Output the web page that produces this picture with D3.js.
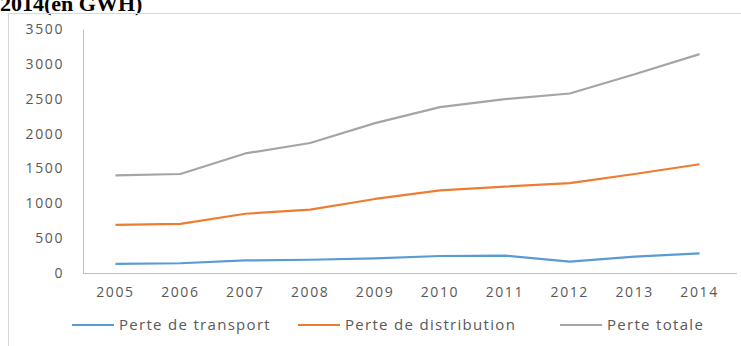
<!DOCTYPE html>
<html lang="en">
<head>
<meta charset="UTF-8">
<title>Pertes 2005-2014</title>
<script src="https://d3js.org/d3.v7.min.js"></script>
<style>
    body { margin: 0; background: #fff; }
    svg { display: block; }
    .tick text, .legend text { font-family: "Open Sans", sans-serif; fill: #595959; }
</style>
</head>
<body>
<svg id="chart" width="741" height="346"></svg>
<script>
    // data (GWh)
    const years = ["2005","2006","2007","2008","2009","2010","2011","2012","2013","2014"];
    const transport = [130, 140, 180, 190, 210, 244, 249, 163, 234, 282];
    const distribution = [690, 705, 850, 910, 1062, 1185, 1240, 1290, 1420, 1560];
    const totale = [1400, 1420, 1715, 1865, 2150, 2380, 2495, 2575, 2850, 3140];
    const seriesNames = ["Perte de transport", "Perte de distribution", "Perte totale"];
    const seriesColors = ["#5b9bd5", "#ed7d31", "#a5a5a5"];
    const yTicks = [0, 500, 1000, 1500, 2000, 2500, 3000, 3500];

    const svg = d3.select("#chart");

    // title, cut at the top like the source
    svg.append("text")
        .attr("x", 0).attr("y", 11)
        .attr("font-family", "Liberation Serif, serif")
        .attr("font-weight", "bold")
        .attr("font-size", 22)
        .text("2014(en GWH)");

    // chart frame
    svg.append("rect")
        .attr("x", 8.5).attr("y", 13.5)
        .attr("width", 760).attr("height", 360)
        .attr("fill", "none")
        .attr("stroke", "#d9d9d9");

    const x = d3.scaleBand().domain(years).range([83, 732]);
    const y = d3.scaleLinear().domain([0, 3500]).range([273, 29]);

    const xAxis = svg.append("g")
        .attr("transform", "translate(0,273)")
        .call(d3.axisBottom(x).tickSize(0).tickPadding(14));
    xAxis.select(".domain").attr("stroke", "#bfbfbf").attr("d", "M83,0.5H737");
    xAxis.selectAll("text").attr("font-size", 14).attr("letter-spacing", "1.6px");

    const yAxis = svg.append("g")
        .attr("transform", "translate(83,0)")
        .call(d3.axisLeft(y).tickValues(yTicks).tickFormat(d3.format("d")).tickSize(0).tickPadding(19));
    yAxis.select(".domain").attr("stroke", "#bfbfbf");
    yAxis.selectAll("text").attr("font-size", 14).attr("letter-spacing", "1.6px");

    const line = d3.line()
        .x((d, i) => x(years[i]) + x.bandwidth() / 2)
        .y(d => y(d));

    [transport, distribution, totale].forEach((vals, k) => {
        svg.append("path")
            .datum(vals)
            .attr("fill", "none")
            .attr("stroke", seriesColors[k])
            .attr("stroke-width", 2.2)
            .attr("stroke-linejoin", "round")
            .attr("d", line);
    });

    // legend
    const legendX = [72, 298, 560];
    const legend = svg.append("g").attr("class", "legend");
    seriesNames.forEach((name, k) => {
        const g = legend.append("g").attr("transform", `translate(${legendX[k]},325)`);
        g.append("line")
            .attr("x1", 0).attr("x2", 42)
            .attr("stroke", seriesColors[k])
            .attr("stroke-width", 2.2);
        g.append("text")
            .attr("x", 47).attr("dy", "0.35em")
            .attr("font-size", 15)
            .attr("letter-spacing", "1.3px")
            .text(name);
    });
</script>
</body>
</html>
